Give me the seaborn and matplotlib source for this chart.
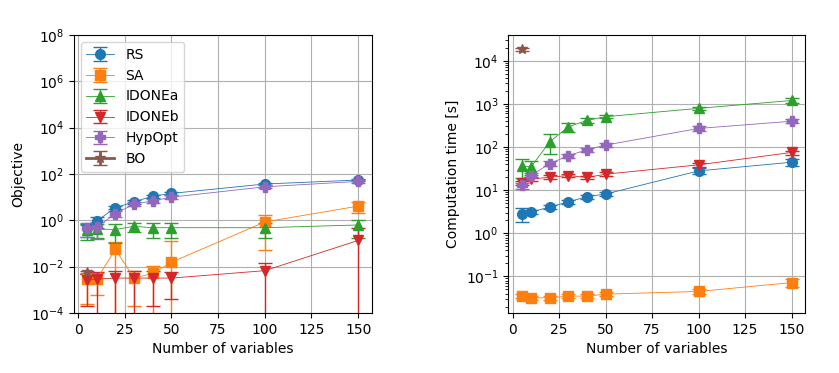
import numpy as np
import pandas as pd
import seaborn as sns
import matplotlib
matplotlib.use("Agg")
import matplotlib.pyplot as plt

# number of variables
nvars = [5, 10, 20, 30, 40, 50, 100, 150]
methods = ["RS", "SA", "IDONEa", "IDONEb", "HypOpt", "BO"]
markers = {"RS": "o", "SA": "s", "IDONEa": "^", "IDONEb": "v", "HypOpt": "P", "BO": "*"}

# objective (mean and std)
obj_rs = [0.45, 0.93, 3.5, 6.3, 11, 14.5, 37, 55]
obj_rs_sd = [0.25, 0.45, 0.5, 1.0, 1.8, 2.2, 5, 6]
obj_sa = [0.0029, 0.0029, 0.055, 0.0032, 0.0051, 0.0154, 0.85, 4.1]
obj_sa_sd = [0.00265, 0.0023, 0.06, 0.003, 0.0056, 0.107, 0.8, 2.0]
obj_ia = [0.39, 0.42, 0.4, 0.55, 0.48, 0.48, 0.48, 0.63]
obj_ia_sd = [0.25, 0.25, 0.3, 0.25, 0.3, 0.3, 0.3, 0.45]
obj_ib = [0.0026, 0.0029, 0.0032, 0.0032, 0.0032, 0.0032, 0.0067, 0.135]
obj_ib_sd = [0.0024, 0.003, 0.0035, 0.0035, 0.003, 0.0028, 0.007, 0.35]
obj_hy = [0.48, 0.5, 1.95, 5.0, 6.9, 10, 28, 48]
obj_hy_sd = [0.28, 0.35, 0.5, 1.0, 1.3, 1.8, 4, 6]
obj_bo = [0.0056]
obj_bo_sd = [0.0008]

# computation time (mean and std)
t_rs = [2.83, 3.09, 4.1, 5.35, 7.1, 8.15, 28, 44.5]
t_rs_sd = [0.95, 0.35, 0.4, 0.5, 0.7, 0.8, 4, 8]
t_sa = [0.036, 0.032, 0.032, 0.035, 0.035, 0.039, 0.045, 0.072]
t_sa_sd = [0.004, 0.004, 0.004, 0.004, 0.004, 0.004, 0.006, 0.015]
t_ia = [36.6, 35, 133, 294, 417, 505, 790, 1200]
t_ia_sd = [17, 12, 65, 75, 50, 40, 80, 150]
t_ib = [14.6, 18.1, 20, 21.9, 19.7, 23.5, 38.7, 75]
t_ib_sd = [1.5, 2, 2, 2, 2, 2.5, 4, 8]
t_hy = [12.9, 21.9, 41.5, 63, 87, 111, 270, 397]
t_hy_sd = [2, 3, 5, 7, 10, 12, 30, 40]
t_bo = [18600]
t_bo_sd = [1500]

obj = {"RS": (obj_rs, obj_rs_sd), "SA": (obj_sa, obj_sa_sd), "IDONEa": (obj_ia, obj_ia_sd),
       "IDONEb": (obj_ib, obj_ib_sd), "HypOpt": (obj_hy, obj_hy_sd), "BO": (obj_bo, obj_bo_sd)}
tim = {"RS": (t_rs, t_rs_sd), "SA": (t_sa, t_sa_sd), "IDONEa": (t_ia, t_ia_sd),
       "IDONEb": (t_ib, t_ib_sd), "HypOpt": (t_hy, t_hy_sd), "BO": (t_bo, t_bo_sd)}

colors = dict(zip(methods, sns.color_palette("tab10", 6)))

fig = plt.figure(figsize=(8.39, 3.73), dpi=100)
ax1 = fig.add_axes([0.088, 0.161, 0.355, 0.745])
ax2 = fig.add_axes([0.606, 0.161, 0.3536, 0.745])

for ax, data in [(ax1, obj), (ax2, tim)]:
    for m in methods:
        y, sd = data[m]
        x = nvars[:len(y)]
        lw = 2 if m == "BO" else 0.6
        elw = 2 if m == "BO" else 1
        ax.errorbar(x, y, yerr=sd, marker=markers[m], color=colors[m], ms=7,
                    lw=lw, elinewidth=elw, capsize=5, capthick=1, label=m)
    ax.set_yscale("log")
    ax.set_xlabel("Number of variables")
    ax.grid(True)

ax1.set_ylim(1e-4, 1e8)
ax1.set_ylabel("Objective")
ax1.legend(loc="upper left")
ax2.set_ylabel("Computation time [s]")

fig.savefig("out.png", dpi=100)
